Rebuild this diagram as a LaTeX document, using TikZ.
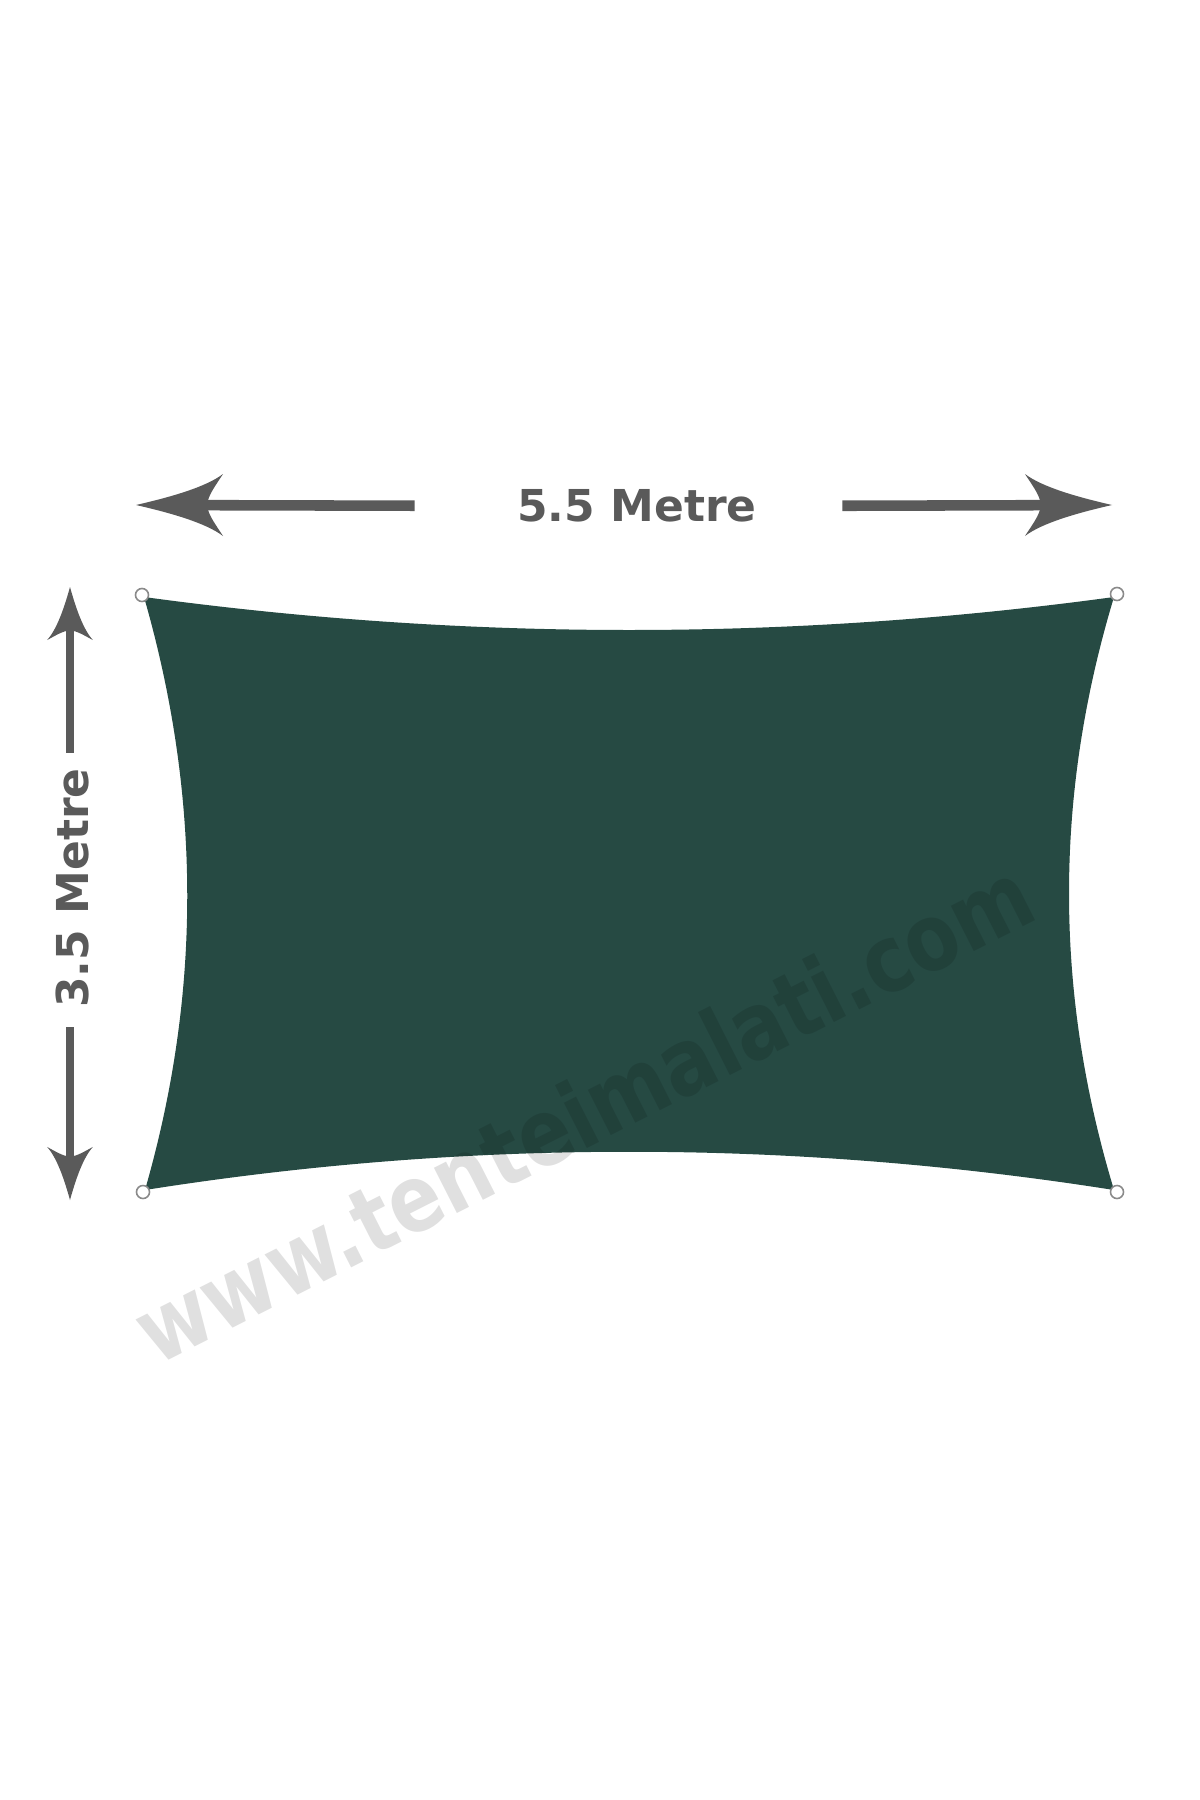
\documentclass[tikz,border=0pt]{standalone}
\usepackage{fontspec}
\newfontfamily\dimfont{DejaVu Sans}
\definecolor{fabric}{HTML}{264A43}
\definecolor{arrowgray}{HTML}{5A5A5A}
\definecolor{ringgray}{HTML}{8A8A8A}
\tikzset{
  dimlabel/.style={text=arrowgray, inner sep=0pt, font=\dimfont\bfseries\fontsize{12.5}{15}\selectfont},
  wmark/.style={text=black, text opacity=0.12, inner sep=0pt, font=\dimfont\bfseries\fontsize{26.4}{32}\selectfont},
  hshaft/.style={draw=arrowgray, line width=3pt},
  vshaft/.style={draw=arrowgray, line width=2.2pt},
  dimhead/.pic={
    \fill[arrowgray] (0,0) .. controls (-35,-8) and (-70,-18) .. (-87,-31)
      .. controls (-80,-20) and (-72,-10) .. (-71,0)
      .. controls (-72,10) and (-80,20) .. (-87,31)
      .. controls (-70,18) and (-35,8) .. (0,0) -- cycle;
  }
}
\begin{document}
\begin{tikzpicture}[x=0.01cm, y=-0.01cm]
\useasboundingbox (0,0) rectangle (1200,1800);
\fill[white] (0,0) rectangle (1200,1800);
% corners of the sail
\coordinate (tl) at (144,597);
\coordinate (tr) at (1114,597);
\coordinate (br) at (1114,1190);
\coordinate (bl) at (145,1190);
\fill[fabric] (tl) .. controls (467,641) and (791,641) .. (tr)
  .. controls (1054,795) and (1054,992) .. (br)
  .. controls (791,1139) and (467,1139) .. (bl)
  .. controls (202,992) and (201,795) .. (tl) -- cycle;
\foreach \p in {(142,595),(1117,594),(1117,1192),(143,1192)}
{
    \draw[ringgray, line width=0.45pt, fill=white] \p circle[radius=1.85pt];
}
\node[wmark, anchor=base west, rotate=26.9, xscale=0.84] (wm) at (156,1367) {www.tenteimalati.com};
% width
\coordinate (wl) at (136,505);
\coordinate (wr) at (1112,505);
\node[dimlabel] (wlabel) at (637,506) {5.5 Metre};
\draw[hshaft, shorten <=18.5pt, shorten >=29pt] (wl) -- (wlabel.west);
\draw[hshaft, shorten <=18.5pt, shorten >=24.2pt] (wr) -- (wlabel.east);
\pic[rotate=180] at (wl) {dimhead};
\pic at (wr) {dimhead};
% height
\coordinate (ht) at (70,587);
\coordinate (hb) at (70,1200);
\node[dimlabel, rotate=90] (hlabel) at (72,888) {3.5 Metre};
\draw[vshaft, shorten <=11.4pt, shorten >=4.3pt] (ht) -- (70,0 |- hlabel.east);
\draw[vshaft, shorten <=11.4pt, shorten >=5.4pt] (hb) -- (70,0 |- hlabel.west);
\pic[rotate=90, xscale=0.61, yscale=0.74] at (ht) {dimhead};
\pic[rotate=-90, xscale=0.61, yscale=0.74] at (hb) {dimhead};
\end{tikzpicture}
\end{document}
